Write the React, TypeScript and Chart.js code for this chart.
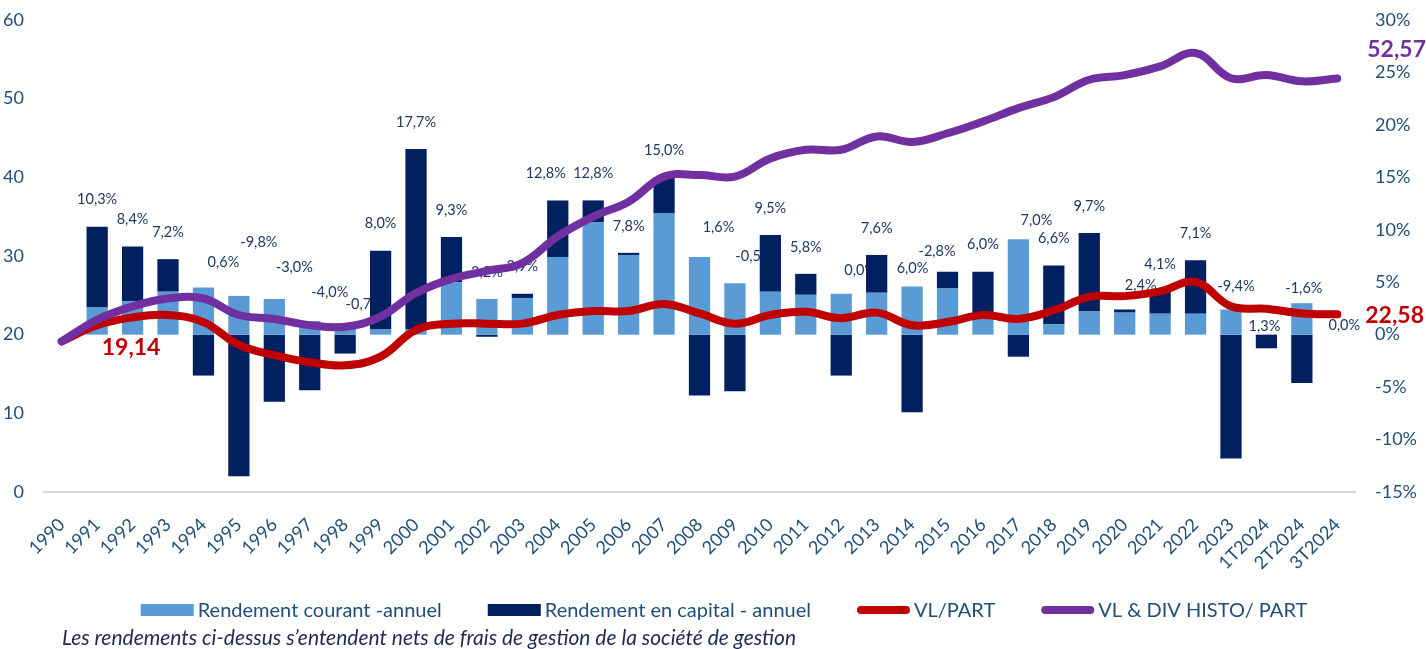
import { useEffect, useRef } from "react";
import { Chart, registerables } from "chart.js";

Chart.register(...registerables);

const categories = [
  "1990", "1991", "1992", "1993", "1994", "1995", "1996", "1997", "1998", "1999",
  "2000", "2001", "2002", "2003", "2004", "2005", "2006", "2007", "2008", "2009",
  "2010", "2011", "2012", "2013", "2014", "2015", "2016", "2017", "2018", "2019",
  "2020", "2021", "2022", "2023", "1T2024", "2T2024", "3T2024",
];

// Rendement courant (annuel), % — right axis
const courant = [
  null, 2.6, 3.2, 4.1, 4.5, 3.7, 3.4, 1.3, 1.1, 0.5,
  0.5, 5.0, 3.4, 3.5, 7.4, 10.7, 7.6, 11.6, 7.4, 4.9,
  4.1, 3.8, 3.9, 4.0, 4.6, 4.4, 2.0, 9.1, 1.0, 2.2,
  2.1, 2.0, 2.0, 2.4, 0, 3.0, 0,
];

// Rendement en capital (annuel), % — right axis
const capital = [
  null, 7.7, 5.2, 3.1, -3.9, -13.5, -6.4, -5.3, -1.8, 7.5,
  17.2, 4.3, -0.2, 0.4, 5.4, 2.1, 0.2, 3.4, -5.8, -5.4,
  5.4, 2.0, -3.9, 3.6, -7.4, 1.6, 4.0, -2.1, 5.6, 7.5,
  0.3, 2.1, 5.1, -11.8, -1.3, -4.6, 0,
];

// Total return labels
const totalLabels = [
  "", "10,3%", "8,4%", "7,2%", "0,6%", "-9,8%", "-3,0%", "-4,0%", "-0,7%", "8,0%",
  "17,7%", "9,3%", "3,2%", "3,9%", "12,8%", "12,8%", "7,8%", "15,0%", "1,6%", "-0,5%",
  "9,5%", "5,8%", "0,0%", "7,6%", "-2,8%", "6,0%", "6,0%", "7,0%", "6,6%", "9,7%",
  "2,4%", "4,1%", "7,1%", "-9,4%", "1,3%", "-1,6%", "0,0%",
];

// VL / part — left axis
const vlPart = [
  19.14, 21.2, 22.2, 22.5, 21.6, 18.7, 17.4, 16.5, 16.1, 17.2,
  20.6, 21.4, 21.4, 21.4, 22.5, 23.0, 23.0, 23.9, 22.7, 21.4,
  22.5, 22.9, 22.1, 22.8, 21.2, 21.6, 22.5, 22.0, 23.1, 24.8,
  24.9, 25.5, 26.7, 23.6, 23.3, 22.7, 22.58,
];

// VL & dividendes historiques / part — left axis
const vlDivHisto = [
  19.14, 21.9, 23.6, 24.6, 24.6, 22.5, 22.0, 21.2, 21.0, 22.3,
  25.3, 27.1, 28.1, 29.1, 32.5, 35.0, 36.9, 40.1, 40.3, 40.1,
  42.4, 43.5, 43.5, 45.2, 44.5, 45.6, 47.1, 48.8, 50.2, 52.4,
  53.0, 54.1, 55.8, 52.6, 53.0, 52.2, 52.57,
];

const leftTicks = [0, 10, 20, 30, 40, 50, 60];
const rightTicks = [-15, -10, -5, 0, 5, 10, 15, 20, 25, 30];

const FONT = "Lato";
const AXIS_COLOR = "#1F4E79";
const LABEL_COLOR = "#1F3864";
const LIGHT = "#5B9BD5";
const DARK = "#002060";
const RED = "#C00000";
const PURPLE = "#7030A0";

// manual placement tweaks of some total labels (like hand-moved labels in the source)
const labelNudge: Record<string, [number, number]> = {
  "1994": [20, 2],
  "1995": [20, -27],
  "1996": [20, -5],
  "1997": [20, -2],
  "1998": [19, 8],
  "2004": [-12, 0],
  "2008": [19, -3],
  "2009": [19, 0],
  "2012": [19, 4],
  "2014": [25, -8],
  "2015": [-35, 24],
  "2017": [18, 8],
  "2020": [16, 3],
  "2023": [5, 4],
  "1T2024": [-2, 19],
  "2T2024": [2, 12],
  "3T2024": [7, 18],
};

const fmt = (v: number) => v.toFixed(2).replace(".", ",");

const annotate = {
  id: "annotate",
  beforeDatasetsDraw(chart: any) {
    const { ctx, scales } = chart;
    const xs = scales.x;
    const y1 = scales.y1;
    ctx.save();
    ctx.font = `14.5px ${FONT}`;
    ctx.fillStyle = LABEL_COLOR;
    ctx.textAlign = "center";
    ctx.textBaseline = "middle";
    categories.forEach((c, i) => {
      const t = totalLabels[i];
      if (!t) return;
      let pos = 0;
      const a = courant[i] ?? 0;
      const b = capital[i] ?? 0;
      if (a > 0) pos += a;
      if (b > 0) pos += b;
      const top = y1.getPixelForValue(pos);
      const [dx, dy] = labelNudge[c] ?? [0, 0];
      ctx.fillText(t, xs.getPixelForValue(i) + dx, top - 27 + dy);
    });
    ctx.restore();
  },
  afterDatasetsDraw(chart: any) {
    const { ctx, scales } = chart;
    const xs = scales.x;
    const y = scales.y;
    const last = categories.length - 1;
    ctx.save();
    ctx.font = `bold 23px ${FONT}`;
    ctx.textBaseline = "middle";
    ctx.textAlign = "left";
    ctx.fillStyle = RED;
    ctx.fillText(fmt(vlPart[0]), xs.getPixelForValue(0) + 40, y.getPixelForValue(vlPart[0]) + 6);
    ctx.fillText(fmt(vlPart[last]), xs.getPixelForValue(last) + 28, y.getPixelForValue(vlPart[last]) + 1);
    ctx.fillStyle = PURPLE;
    ctx.fillText(fmt(vlDivHisto[last]), xs.getPixelForValue(last) + 30, y.getPixelForValue(vlDivHisto[last]) - 29);
    ctx.restore();
  },
  afterDraw(chart: any) {
    const { ctx } = chart;
    const items = [
      { kind: "box", color: LIGHT, text: "Rendement courant -annuel" },
      { kind: "box", color: DARK, text: "Rendement en capital - annuel" },
      { kind: "line", color: RED, text: "VL/PART" },
      { kind: "line", color: PURPLE, text: "VL & DIV HISTO/ PART" },
    ];
    ctx.save();
    ctx.font = `20px ${FONT}`;
    const sw = 53;
    const gapText = 4;
    const gapItem = 46;
    const widths = items.map((it) => sw + gapText + ctx.measureText(it.text).width);
    const total = widths.reduce((s, w) => s + w, 0) + gapItem * (items.length - 1);
    let x = 724 - total / 2;
    const yc = 610;
    items.forEach((it, i) => {
      if (it.kind === "box") {
        ctx.fillStyle = it.color;
        ctx.fillRect(x, yc - 6, sw, 12);
      } else {
        ctx.strokeStyle = it.color;
        ctx.lineWidth = 8;
        ctx.lineCap = "round";
        ctx.beginPath();
        ctx.moveTo(x + 4, yc);
        ctx.lineTo(x + sw - 4, yc);
        ctx.stroke();
      }
      ctx.fillStyle = AXIS_COLOR;
      ctx.textAlign = "left";
      ctx.textBaseline = "middle";
      ctx.fillText(it.text, x + sw + gapText, yc + 1);
      x += widths[i] + gapItem;
    });
    ctx.font = `italic 21px ${FONT}`;
    ctx.fillStyle = "#1E2A55";
    ctx.fillText(
      "Les rendements ci-dessus s\u2019entendent nets de frais de gestion de la soci\u00e9t\u00e9 de gestion",
      62,
      638
    );
    ctx.restore();
  },
};

export default function App() {
  const ref = useRef<HTMLCanvasElement | null>(null);

  useEffect(() => {
    document.body.style.margin = "0";
    if (!ref.current) return;
    const chart = new Chart(ref.current, {
      type: "bar",
      data: {
        labels: categories,
        datasets: [
          {
            type: "line",
            label: "VL & DIV HISTO/ PART",
            data: vlDivHisto,
            yAxisID: "y",
            borderColor: PURPLE,
            backgroundColor: PURPLE,
            borderWidth: 8,
            tension: 0.4,
            pointRadius: 0,
            borderCapStyle: "round",
            borderJoinStyle: "round",
            order: 0,
          },
          {
            type: "line",
            label: "VL/PART",
            data: vlPart,
            yAxisID: "y",
            borderColor: RED,
            backgroundColor: RED,
            borderWidth: 8,
            tension: 0.4,
            pointRadius: 0,
            borderCapStyle: "round",
            borderJoinStyle: "round",
            order: 1,
          },
          {
            type: "bar",
            label: "Rendement courant -annuel",
            data: courant,
            yAxisID: "y1",
            backgroundColor: LIGHT,
            stack: "r",
            barPercentage: 1,
            categoryPercentage: 0.6,
            order: 2,
          },
          {
            type: "bar",
            label: "Rendement en capital - annuel",
            data: capital,
            yAxisID: "y1",
            backgroundColor: DARK,
            stack: "r",
            barPercentage: 1,
            categoryPercentage: 0.6,
            order: 2,
          },
        ] as any,
      },
      options: {
        responsive: false,
        animation: false,
        layout: { padding: { top: 20, left: 0, right: 0, bottom: 0 } },
        plugins: { legend: { display: false }, tooltip: { enabled: false } },
        scales: {
          x: {
            grid: { display: false, drawTicks: false },
            border: { display: true, color: "#D9D9D9", width: 2 },
            ticks: {
              color: AXIS_COLOR,
              font: { family: FONT, size: 18 },
              minRotation: 45,
              maxRotation: 45,
              autoSkip: false,
              padding: 22,
            },
            afterFit: (s: any) => {
              s.height = 157;
            },
          },
          y: {
            position: "left",
            min: 0,
            max: 60,
            grid: { display: false, drawTicks: true, tickLength: 20 },
            border: { display: false },
            afterBuildTicks: (s: any) => {
              s.ticks = leftTicks.map((v) => ({ value: v }));
            },
            ticks: {
              color: AXIS_COLOR,
              font: { family: FONT, size: 18 },
              padding: 0,
            },
            afterFit: (s: any) => {
              s.width = 44;
            },
          },
          y1: {
            position: "right",
            min: -15,
            max: 30,
            stacked: true,
            grid: { display: false, drawTicks: true, tickLength: 20 },
            border: { display: false },
            afterBuildTicks: (s: any) => {
              s.ticks = rightTicks.map((v) => ({ value: v }));
            },
            ticks: {
              color: AXIS_COLOR,
              font: { family: FONT, size: 18 },
              padding: 0,
              callback: (v: any) => `${v}%`,
            },
            afterFit: (s: any) => {
              s.width = 71;
            },
          },
        },
      } as any,
      plugins: [annotate],
    });
    return () => chart.destroy();
  }, []);

  return (
    <div style={{ width: 1426, height: 649 }}>
      <canvas ref={ref} width={1426} height={649} />
    </div>
  );
}
